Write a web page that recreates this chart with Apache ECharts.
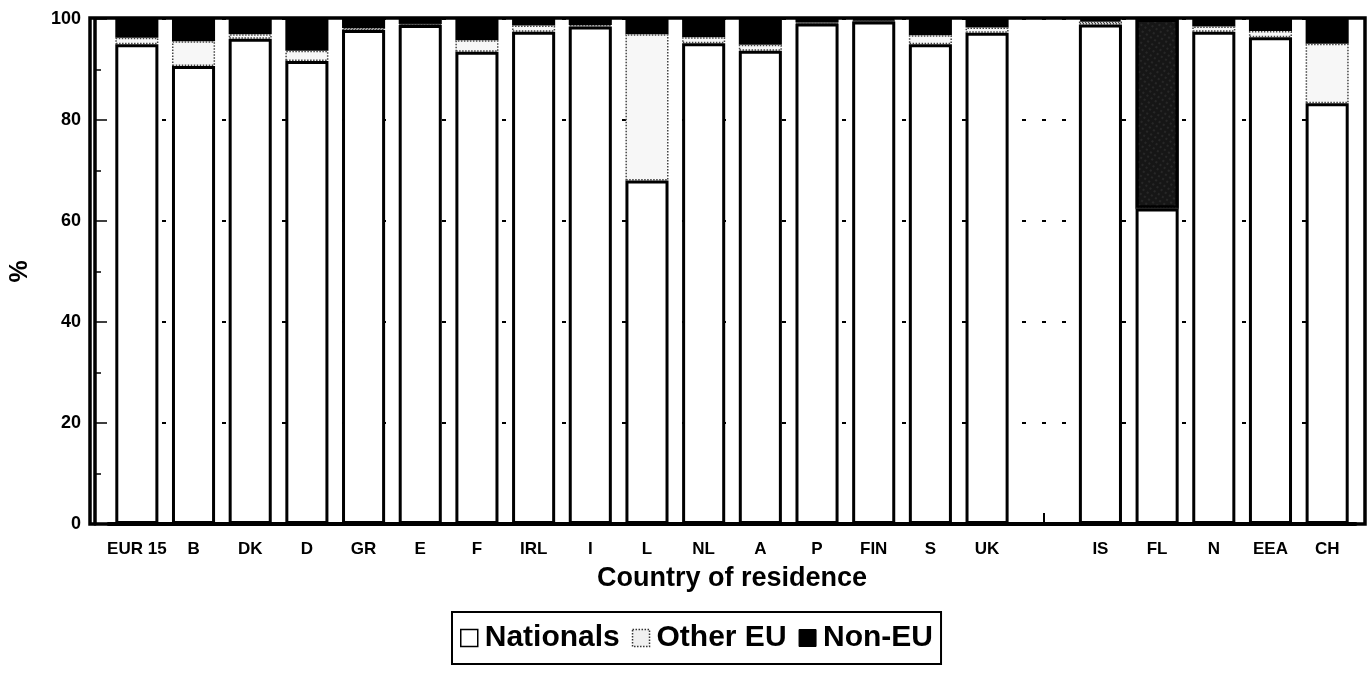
<!DOCTYPE html>
<html>
<head>
<meta charset="utf-8">
<script src="https://cdn.jsdelivr.net/npm/echarts@6/dist/echarts.min.js"></script>
<style>html,body{margin:0;padding:0;background:#fff;}#c{width:1372px;height:675px;}</style>
</head>
<body>
<div id="c"></div>
<script>
const categories = ['EUR 15','B','DK','D','GR','E','F','IRL','I','L','NL','A','P','FIN','S','UK','','IS','FL','N','EEA','CH'];
const nationals = [95.0, 90.7, 96.1, 91.7, 97.8, 98.8, 93.5, 97.5, 98.5, 68.0, 95.2, 93.7, 99.1, 99.5, 95.0, 97.3, null, 98.9, 62.5, 97.5, 96.4, 83.3];
const otherEU   = [1.3, 4.9, 0.9, 2.0, 0.4, 0.2, 2.3, 1.2, 0.3, 29.0, 1.2, 1.2, 0.2, 0.2, 1.8, 1.0, null, 0.6, 0.0, 1.0, 1.2, 11.8];
const nonEU     = [3.7, 4.4, 3.0, 6.3, 1.8, 1.0, 4.2, 1.3, 1.2, 3.0, 3.6, 5.1, 0.7, 0.3, 3.2, 1.7, null, 0.5, 37.5, 1.5, 2.4, 4.9];
const yTicks = [0, 20, 40, 60, 80, 100];
const stippled = ['FL'];

const FONT = '"Liberation Sans", Arial, sans-serif';

const chart = echarts.init(document.getElementById('c'), null, {renderer: 'canvas'});

const nonEUData = nonEU.map((v, i) => {
  if (stippled.indexOf(categories[i]) >= 0) {
    return {
      value: v,
      itemStyle: {
        color: '#161616',
        decal: {
          symbol: 'rect', symbolSize: 0.5,
          color: 'rgba(255,255,255,0.3)',
          dashArrayX: [2, 3], dashArrayY: [2, 3], rotation: 0.6
        }
      }
    };
  }
  return v;
});

const option = {
  backgroundColor: '#fff',
  animation: false,
  grid: [
    {left: 103.5, right: 16.5, top: 19, bottom: 151, containLabel: false},
    {left: 90, right: 7, top: 18, bottom: 151, show: true, borderColor: '#000', borderWidth: 3.5, backgroundColor: 'transparent'}
  ],
  legend: {
    left: 452, top: 612,
    orient: 'horizontal',
    padding: [11, 8, 11, 8],
    itemGap: 12,
    itemWidth: 17, itemHeight: 17,
    borderColor: '#000', borderWidth: 2,
    icon: 'rect',
    textStyle: {fontFamily: FONT, fontWeight: 'bold', fontSize: 30, color: '#000', padding: [0, 0, 0, 2]},
    data: [
      {name: 'Nationals', itemStyle: {color: '#fff', borderColor: '#000', borderWidth: 1.5}},
      {name: 'Other EU', itemStyle: {color: '#f0f0f0', borderColor: '#333', borderWidth: 1.5, borderType: 'dotted'}},
      {name: 'Non-EU', itemStyle: {color: '#000', borderColor: '#000', borderWidth: 1}}
    ]
  },
  xAxis: [
    {
      type: 'category', gridIndex: 0, data: categories,
      name: 'Country of residence', nameLocation: 'middle', nameGap: 41,
      nameTextStyle: {fontFamily: FONT, fontWeight: 'bold', fontSize: 27, color: '#000'},
      axisLine: {show: true, lineStyle: {color: '#000', width: 4}},
      axisTick: {show: true, inside: true, alignWithLabel: true, length: 11, lineStyle: {color: '#000', width: 2}},
      axisLabel: {interval: 0, margin: 17, fontFamily: FONT, fontWeight: 'bold', fontSize: 17, color: '#000'},
      splitLine: {show: false}
    },
    {type: 'value', gridIndex: 1, show: false, min: 0, max: 1}
  ],
  yAxis: [
    {
      type: 'value', gridIndex: 0, min: yTicks[0], max: yTicks[yTicks.length - 1], interval: 20,
      offset: 13.5,
      name: '%', nameLocation: 'middle', nameGap: 62, nameRotate: 90,
      nameTextStyle: {fontFamily: FONT, fontWeight: 'bold', fontSize: 25, color: '#000'},
      axisLine: {show: true, lineStyle: {color: '#000', width: 3.5}},
      axisTick: {show: true, inside: true, length: 12, lineStyle: {color: '#000', width: 1.5}},
      minorTick: {show: true, splitNumber: 2, length: 6, lineStyle: {color: '#000', width: 1.5}},
      axisLabel: {margin: 14, fontFamily: FONT, fontWeight: 'bold', fontSize: 18, color: '#000'},
      splitLine: {show: true, lineStyle: {color: '#000', width: 2, type: [4, 16], dashOffset: 6.5}}
    },
    {type: 'value', gridIndex: 1, show: false, min: 0, max: 1}
  ],
  series: [
    {
      name: 'Nationals', type: 'bar', stack: 'total', xAxisIndex: 0, yAxisIndex: 0,
      barWidth: '76%', z: 4,
      itemStyle: {color: '#fff', borderColor: '#000', borderWidth: 3},
      data: nationals
    },
    {
      name: 'Other EU', type: 'bar', stack: 'total', xAxisIndex: 0, yAxisIndex: 0,
      barWidth: '76%', z: 3,
      itemStyle: {color: '#f7f7f7', borderColor: '#444', borderWidth: 1.5, borderType: 'dotted'},
      data: otherEU
    },
    {
      name: 'Non-EU', type: 'bar', stack: 'total', xAxisIndex: 0, yAxisIndex: 0,
      barWidth: '76%', z: 2,
      itemStyle: {color: '#000', borderColor: '#000', borderWidth: 3},
      data: nonEUData
    }
  ]
};
chart.setOption(option);
</script>
</body>
</html>
